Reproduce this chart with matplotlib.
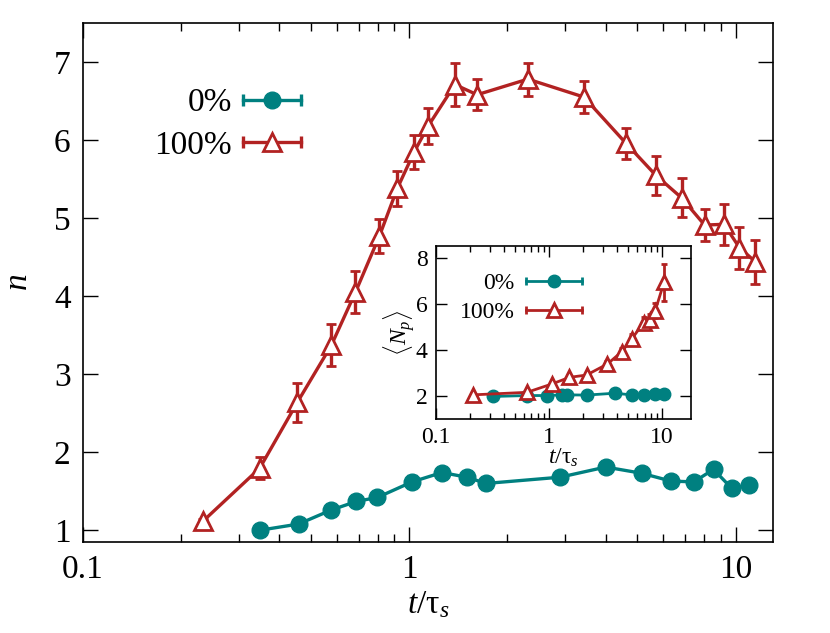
import numpy as np
import matplotlib
matplotlib.use('Agg')
import matplotlib.pyplot as plt
from matplotlib.lines import Line2D
from matplotlib.legend_handler import HandlerBase
from matplotlib.ticker import LogLocator, NullFormatter

plt.rcParams['font.family'] = ['Liberation Serif', 'DejaVu Serif']
plt.rcParams['mathtext.fontset'] = 'custom'
plt.rcParams['mathtext.rm'] = 'Liberation Serif'
plt.rcParams['mathtext.it'] = 'Liberation Serif:italic'

teal = '#008080'
red = '#b22222'

# main panel: n vs t/tau_s
t_0 = [0.348, 0.458, 0.577, 0.689, 0.798, 1.02, 1.26, 1.50, 1.72, 2.9,
       4.0, 5.16, 6.34, 7.45, 8.56, 9.72, 10.98]
n_0 = [1.0, 1.08, 1.26, 1.37, 1.42, 1.62, 1.74, 1.68, 1.60, 1.68,
       1.81, 1.73, 1.63, 1.62, 1.78, 1.54, 1.58]
e_0 = [0.03, 0.04, 0.05, 0.06, 0.06, 0.07, 0.06, 0.07, 0.07, 0.06,
       0.06, 0.07, 0.05, 0.06, 0.06, 0.05, 0.04]

t_100 = [0.233, 0.348, 0.454, 0.577, 0.684, 0.81, 0.919, 1.036, 1.143, 1.38,
         1.614, 2.31, 3.43, 4.61, 5.69, 6.83, 8.04, 9.22, 10.28, 11.5]
n_100 = [1.115, 1.795, 2.64, 3.37, 4.05, 4.77, 5.38, 5.85, 6.18, 6.71,
         6.58, 6.78, 6.55, 5.96, 5.55, 5.26, 4.91, 4.92, 4.62, 4.44]
e_100 = [0.03, 0.14, 0.25, 0.27, 0.27, 0.22, 0.22, 0.22, 0.23, 0.28,
         0.2, 0.21, 0.21, 0.2, 0.25, 0.25, 0.21, 0.26, 0.27, 0.28]

# inset: <N_p> vs t/tau_s
ti_0 = [0.32, 0.64, 0.96, 1.3, 1.45, 2.15, 3.8, 5.4, 6.9, 8.6, 10.4]
Np_0 = [1.98, 2.02, 2.02, 2.05, 2.05, 2.04, 2.12, 2.05, 2.05, 2.07, 2.08]

ti_100 = [0.213, 0.64, 1.06, 1.52, 2.15, 3.29, 4.42, 5.4, 6.9, 7.8, 8.7, 10.4]
Np_100 = [2.05, 2.16, 2.52, 2.81, 2.91, 3.39, 3.93, 4.48, 5.19, 5.3, 5.71, 6.93]
ei_100 = [0.03, 0.05, 0.08, 0.1, 0.1, 0.12, 0.15, 0.2, 0.22, 0.27, 0.33, 0.8]

labels = ['0%', '100%']


class HandlerCaps(HandlerBase):
    # gnuplot-like key: line with end caps and marker in the middle
    def __init__(self, cap):
        super().__init__()
        self.cap = cap

    def create_artists(self, legend, h, xdescent, ydescent, width, height,
                       fontsize, trans):
        y = height / 2 - ydescent
        x0, x1 = -xdescent, -xdescent + width
        c, lw = h.get_color(), h.get_linewidth()
        line = Line2D([x0, x1], [y, y], color=c, lw=lw)
        caps = Line2D([x0, x1], [y, y], ls='none', marker='|', ms=self.cap,
                      mew=lw, color=c)
        mk = Line2D([(x0 + x1) / 2], [y], ls='none', marker=h.get_marker(),
                    ms=h.get_markersize(), mfc=h.get_markerfacecolor(),
                    mec=h.get_markeredgecolor(), mew=h.get_markeredgewidth())
        for a in (line, caps, mk):
            a.set_transform(trans)
        return [line, caps, mk]


fig = plt.figure(figsize=(8.3, 6.33), dpi=100)
ax = fig.add_axes([0.1, 0.1438, 0.831, 0.82])


def style_axes(a, size, major, minor, pad):
    a.set_xscale('log')
    a.tick_params(which='both', direction='in', top=True, right=True,
                  labelsize=size, width=1.0)
    a.tick_params(which='major', length=major, pad=pad)
    a.tick_params(which='minor', length=minor)
    a.xaxis.set_minor_locator(LogLocator(base=10, subs=np.arange(2, 10)))
    a.xaxis.set_minor_formatter(NullFormatter())
    for s in a.spines.values():
        s.set_linewidth(1.2)


def draw(a, x, y, err, ms_c, ms_t, lw, cap):
    a.errorbar(x[0], y[0], yerr=err[0], color=teal, marker='o', ms=ms_c,
               lw=lw, elinewidth=lw, capsize=cap, capthick=lw, zorder=3)
    a.errorbar(x[1], y[1], yerr=err[1], color=red, marker='^', ms=ms_t,
               mfc='white', mec=red, mew=2, lw=lw, elinewidth=lw,
               capsize=cap, capthick=lw, zorder=4)


def legend(a, size, ms_c, ms_t, lw, loc, hl, pad, sp, cap):
    h0 = Line2D([], [], color=teal, marker='o', ms=ms_c, lw=lw)
    h1 = Line2D([], [], color=red, marker='^', ms=ms_t, mfc='white',
                mec=red, mew=2, lw=lw)
    a.legend([h0, h1], labels, loc='upper left', bbox_to_anchor=loc,
             frameon=False, markerfirst=False, fontsize=size,
             handlelength=hl, handletextpad=pad, labelspacing=sp,
             handler_map={Line2D: HandlerCaps(cap)})


style_axes(ax, 24, 11, 6, 9)
draw(ax, [t_0, t_100], [n_0, n_100], [e_0, e_100], 12, 13, 2.4, 3.5)
ax.set_xlim(0.1, 13)
ax.set_ylim(0.85, 7.5)
ax.set_xticks([0.1, 1, 10])
ax.set_xticklabels(['0.1', '1', '10'])
ax.set_yticks([1, 2, 3, 4, 5, 6, 7])
ax.set_xlabel(r'$t/\mathrm{\tau}_s$', fontsize=24, labelpad=3)
ax.set_ylabel(r'$n$', fontsize=24, labelpad=14)
legend(ax, 24, 12, 13, 2.4, (0.06, 0.933), 1.74, 0.33, 0.36, 8)

ins = fig.add_axes([0.525, 0.338, 0.3075, 0.273])
style_axes(ins, 17, 8, 4, 6)
draw(ins, [ti_0, ti_100], [Np_0, Np_100],
     [[0.02] * len(ti_0), ei_100], 9, 10, 2.0, 2.5)
ins.set_xlim(0.1, 18)
ins.set_ylim(1, 8.5)
ins.set_xticks([0.1, 1, 10])
ins.set_xticklabels(['0.1', '1', '10'])
ins.set_yticks([2, 4, 6, 8])
ins.set_xlabel(r'$t/\mathrm{\tau}_s$', fontsize=17, labelpad=-1)
ins.set_ylabel(r'$\langle N_p\rangle$', fontsize=17, labelpad=-1)
legend(ins, 17, 9, 10, 2.0, (0.01, 0.97), 2.37, 0.5, 0.3, 6)

fig.savefig('out.png', dpi=100)
